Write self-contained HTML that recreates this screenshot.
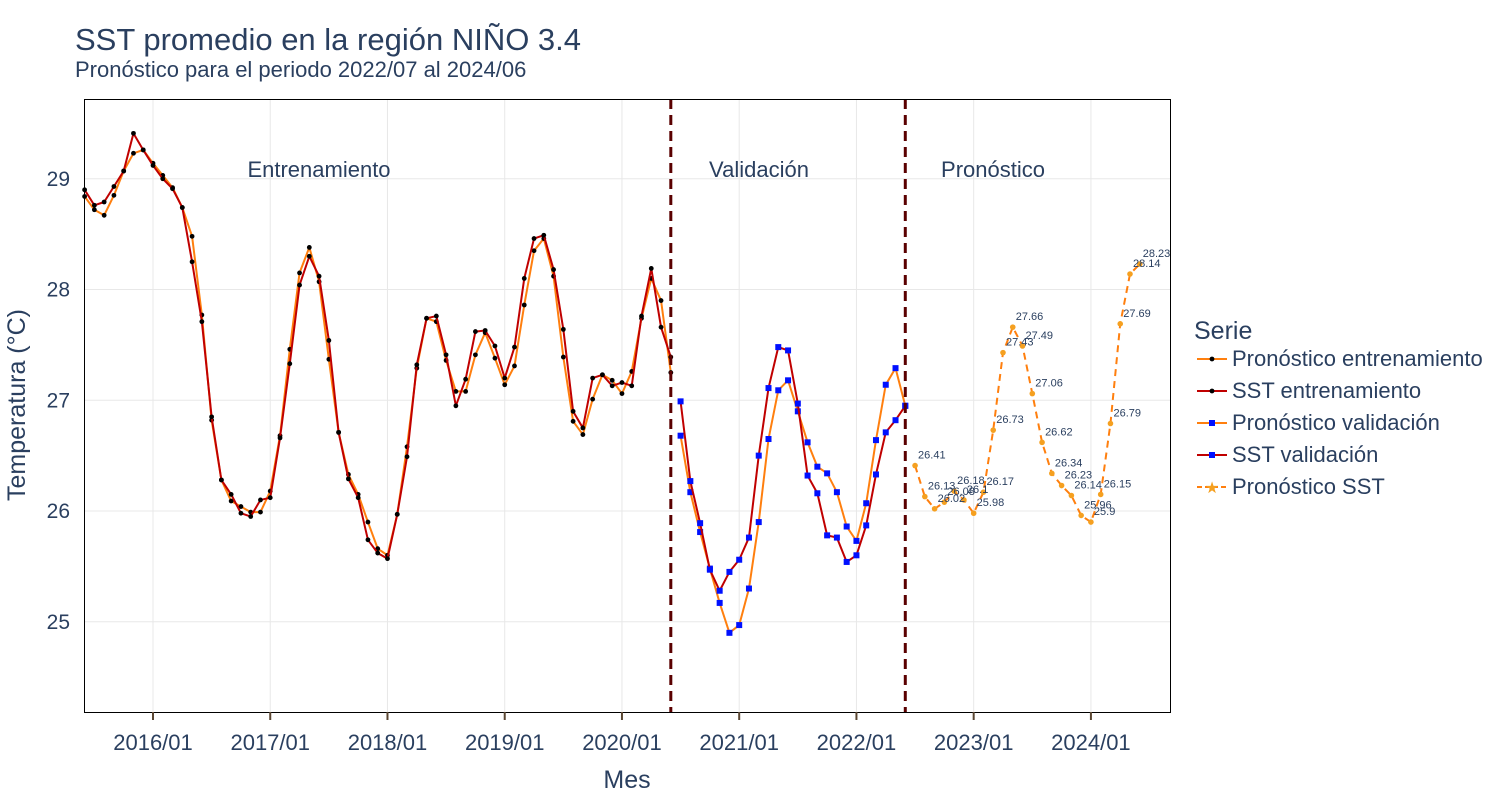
<!DOCTYPE html>
<html><head><meta charset="utf-8">
<style>
body{margin:0;background:#fff;font-family:"Liberation Sans",sans-serif;}
svg text{font-family:"Liberation Sans",sans-serif;}
</style></head>
<body>
<svg id="chart" width="1500" height="800" xmlns="http://www.w3.org/2000/svg">
<text x="75" y="50" font-size="31" fill="#2a3f5f">SST promedio en la región NIÑO 3.4</text>
<text x="75" y="77" font-size="22" fill="#2a3f5f">Pronóstico para el periodo 2022/07 al 2024/06</text>
<g id="grid"></g>
<g id="marks"></g>
<rect x="84.5" y="99.5" width="1086" height="613" fill="none" stroke="#000" stroke-width="1"/>
<g id="axes"></g>
<text x="627" y="788" font-size="25" fill="#2a3f5f" text-anchor="middle">Mes</text>
<text transform="translate(25,405) rotate(-90)" font-size="25" fill="#2a3f5f" text-anchor="middle">Temperatura (°C)</text>
<text x="319" y="177" font-size="22" fill="#2a3f5f" text-anchor="middle">Entrenamiento</text>
<text x="759" y="177" font-size="22" fill="#2a3f5f" text-anchor="middle">Validación</text>
<text x="993" y="177" font-size="22" fill="#2a3f5f" text-anchor="middle">Pronóstico</text>
<g id="legend">
<text x="1194" y="339" font-size="25" fill="#2a3f5f">Serie</text>
</g>
</svg>
<script>
const trainStart = [2015, 6];
const sstTrain = [28.9,28.76,28.79,28.93,29.07,29.41,29.26,29.12,29.0,28.91,28.74,28.25,27.71,26.85,26.28,26.15,25.98,25.95,26.1,26.12,26.66,27.33,28.04,28.3,28.12,27.54,26.71,26.29,26.12,25.74,25.62,25.57,25.97,26.49,27.32,27.74,27.76,27.41,26.95,27.19,27.62,27.63,27.49,27.2,27.48,28.1,28.46,28.49,28.18,27.64,26.9,26.75,27.2,27.23,27.13,27.16,27.13,27.76,28.19,27.66,27.39];
const predTrain = [28.84,28.72,28.67,28.85,29.07,29.23,29.26,29.14,29.03,28.92,28.74,28.48,27.77,26.82,26.28,26.09,26.04,25.99,25.99,26.18,26.68,27.46,28.15,28.38,28.07,27.37,26.71,26.33,26.15,25.9,25.66,25.6,25.97,26.58,27.29,27.74,27.71,27.36,27.08,27.08,27.41,27.61,27.38,27.14,27.31,27.86,28.35,28.46,28.12,27.39,26.81,26.69,27.01,27.23,27.18,27.06,27.26,27.74,28.1,27.9,27.25];
const valStart = [2020, 7];
const sstVal = [26.99,26.27,25.89,25.47,25.28,25.45,25.56,25.76,26.5,27.11,27.48,27.45,26.97,26.32,26.16,25.78,25.76,25.54,25.6,25.87,26.33,26.71,26.82,26.95];
const predVal = [26.68,26.17,25.81,25.48,25.17,24.9,24.97,25.3,25.9,26.65,27.09,27.18,26.9,26.62,26.4,26.34,26.17,25.86,25.73,26.07,26.64,27.14,27.29,26.95];
const fcStart = [2022, 7];
const forecast = [26.41,26.13,26.02,26.08,26.18,26.1,25.98,26.17,26.73,27.43,27.66,27.49,27.06,26.62,26.34,26.23,26.14,25.96,25.9,26.15,26.79,27.69,28.14,28.23];
const xTicks = ["2016/01","2017/01","2018/01","2019/01","2020/01","2021/01","2022/01","2023/01","2024/01"];
const yTicks = [25,26,27,28,29];
const splitDates = ["2020/06","2022/06"];

const NS="http://www.w3.org/2000/svg";
function mi(y,m){return (y-2016)*12+(m-1);}
function x(m){return 153+m*9.77;}
function y(v){return 511-(v-26)*110.75;}
function el(tag,attrs,parent){const e=document.createElementNS(NS,tag);for(const k in attrs)e.setAttribute(k,attrs[k]);parent.appendChild(e);return e;}
const grid=document.getElementById('grid'),marks=document.getElementById('marks'),axes=document.getElementById('axes'),legend=document.getElementById('legend');
el('rect',{x:84,y:99,width:1086,height:613,fill:'#fff'},grid);
xTicks.forEach(t=>{const [yy,mm]=t.split('/').map(Number);const px=x(mi(yy,mm));
 const g=el('line',{x1:px,x2:px,y1:99,y2:712,stroke:'#e8e8e8','stroke-width':1},grid);
 
 
 const tk=el('line',{x1:px,x2:px,y1:712,y2:720,stroke:'#5a4632','stroke-width':2},axes);
 
 
 const tl=el('text',{x:px,y:750,'font-size':22,fill:'#2a3f5f','text-anchor':'middle'},axes);tl.textContent=t;
 
 
});
yTicks.forEach(v=>{const py=y(v);
 const g=el('line',{x1:84,x2:1170,y1:py,y2:py,stroke:'#e8e8e8','stroke-width':1},grid);
 
 
 const tl=el('text',{x:70,y:py+7,'font-size':21,fill:'#2a3f5f','text-anchor':'end'},axes);tl.textContent=v;
 
 
});
function pts(start,vals){return vals.map((v,i)=>[x(mi(start[0],start[1])+i),y(v)]);}
function line(p,color,name,dash){const l=el('polyline',{points:p.map(a=>a.join(',')).join(' '),fill:'none',stroke:color,'stroke-width':2,'stroke-linejoin':'round'},marks);
 if(dash)l.setAttribute('stroke-dasharray',dash);
 
 }
function dots(p,kind,color,name){p.forEach(a=>{let d;
 if(kind==='sq'){d=el('rect',{x:a[0]-3,y:a[1]-3,width:6,height:6,fill:color},marks);}
 else d=el('circle',{cx:a[0],cy:a[1],r:kind==='big'?2.8:2.4,fill:color},marks);
 
 });}
const pT=pts(trainStart,predTrain),sT=pts(trainStart,sstTrain),pV=pts(valStart,predVal),sV=pts(valStart,sstVal),fc=pts(fcStart,forecast);
line(pT,'#ff7f0e','line-pred-train');dots(pT,'c','#000','point-pred-train');
line(sT,'#c00000','line-sst-train');dots(sT,'c','#000','point-sst-train');
line(pV,'#ff7f0e','line-pred-val');dots(pV,'sq','#0010ff','point-pred-val');
line(sV,'#c00000','line-sst-val');dots(sV,'sq','#0010ff','point-sst-val');
line(fc,'#ff7f0e','line-forecast','7,5');dots(fc,'big','#f5a020','point-forecast');
fc.forEach((a,i)=>{const t=el('text',{x:a[0]+3,y:a[1]-7,'font-size':11,fill:'#2a3f5f'},marks);t.textContent=forecast[i];
 
 });
splitDates.forEach(s=>{const [yy,mm]=s.split('/').map(Number);const px=x(mi(yy,mm));
 const l=el('line',{x1:px,x2:px,y1:99,y2:712,stroke:'#5a0000','stroke-width':3,'stroke-dasharray':'10,6'},marks);
 
 });
const leg=[["Pronóstico entrenamiento",'#ff7f0e','c','#000',''],["SST entrenamiento",'#c00000','c','#000',''],["Pronóstico validación",'#ff7f0e','sq','#0010ff',''],["SST validación",'#c00000','sq','#0010ff',''],["Pronóstico SST",'#ff7f0e','star','#f5a020','5,3']];
leg.forEach((L,i)=>{const yy=359+i*32;
 const g=el('g',{},legend);
 
 
 const l=el('line',{x1:1197,x2:1227,y1:yy,y2:yy,stroke:L[1],'stroke-width':2},g);if(L[4])l.setAttribute('stroke-dasharray',L[4]);
 if(L[2]==='sq')el('rect',{x:1209,y:yy-3,width:6,height:6,fill:L[3]},g);
 else if(L[2]==='star'){const t=el('text',{x:1212,y:yy+6,'font-size':16,fill:L[3],'text-anchor':'middle'},g);t.textContent='★';}
 else el('circle',{cx:1212,cy:yy,r:2.4,fill:L[3]},g);
 const t=el('text',{x:1232,y:yy+7,'font-size':22,fill:'#2a3f5f'},g);t.textContent=L[0];});
</script>
</body></html>
